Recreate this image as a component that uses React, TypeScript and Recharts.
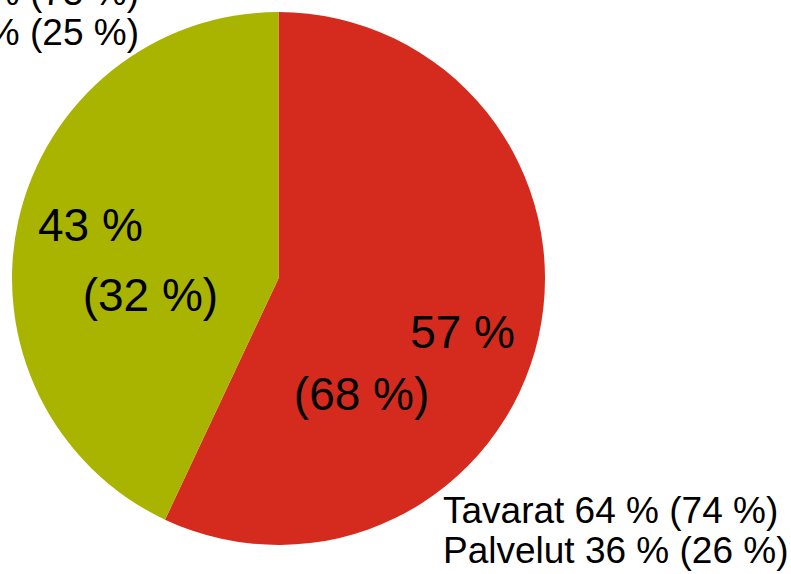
import { PieChart, Pie, Cell } from "recharts";

const categories = ["Tavarat", "Palvelut"];
const shares = [57, 43];
const sharesPrev = [68, 32];
const sliceColors = ["#D52B1E", "#A9B400"];

const legendTop = ["Tavarat 75 % (75 %)", "Palvelut 25 % (25 %)"];
const legendBottom = ["Tavarat 64 % (74 %)", "Palvelut 36 % (26 %)"];

const data = categories.map((name, i) => ({
  name,
  value: shares[i],
  prev: sharesPrev[i],
}));

const FONT = "'Liberation Sans', Arial, sans-serif";
const RAD = Math.PI / 180;

// label line offsets from the mid-angle anchor point
const lineOffsets = [
  { l1: [2, 29], l2: [-99, 91] },
  { l1: [-6, 3], l2: [54, 73] },
];

const renderLabel = (props: any) => {
  const { cx, cy, midAngle, outerRadius, index } = props;
  const r = outerRadius * 0.7;
  const x = cx + r * Math.cos(-midAngle * RAD);
  const y = cy + r * Math.sin(-midAngle * RAD);
  const o = lineOffsets[index];
  const d = data[index];
  return (
    <g>
      <text x={x + o.l1[0]} y={y + o.l1[1]} textAnchor="middle" fill="#000" fontSize={46} fontFamily={FONT}>
        {d.value} %
      </text>
      <text x={x + o.l2[0]} y={y + o.l2[1]} textAnchor="middle" fill="#000" fontSize={46} fontFamily={FONT}>
        ({d.prev} %)
      </text>
    </g>
  );
};

export default function App() {
  return (
    <div style={{ position: "absolute", left: 0, top: 0, width: 791, height: 574, background: "#fff", overflow: "hidden" }}>
      <PieChart width={791} height={574} margin={{ top: 0, right: 0, bottom: 0, left: 0 }}>
        <Pie
          data={data}
          dataKey="value"
          cx={278.5}
          cy={278.5}
          outerRadius={266.5}
          startAngle={90}
          endAngle={-270}
          stroke="none"
          label={renderLabel}
          labelLine={false}
          isAnimationActive={false}
        >
          {data.map((d, i) => (
            <Cell key={d.name} fill={sliceColors[i]} />
          ))}
        </Pie>
      </PieChart>
      <svg width={791} height={574} style={{ position: "absolute", left: 0, top: 0, pointerEvents: "none" }}>
        {legendTop.map((t, i) => (
          <text key={t} x={139} y={5 + i * 40} textAnchor="end" fontSize={37} fontFamily={FONT} fill="#000">
            {t}
          </text>
        ))}
        {legendBottom.map((t, i) => (
          <text key={t} x={443} y={523 + i * 40} fontSize={37} fontFamily={FONT} fill="#000">
            {t}
          </text>
        ))}
      </svg>
    </div>
  );
}
